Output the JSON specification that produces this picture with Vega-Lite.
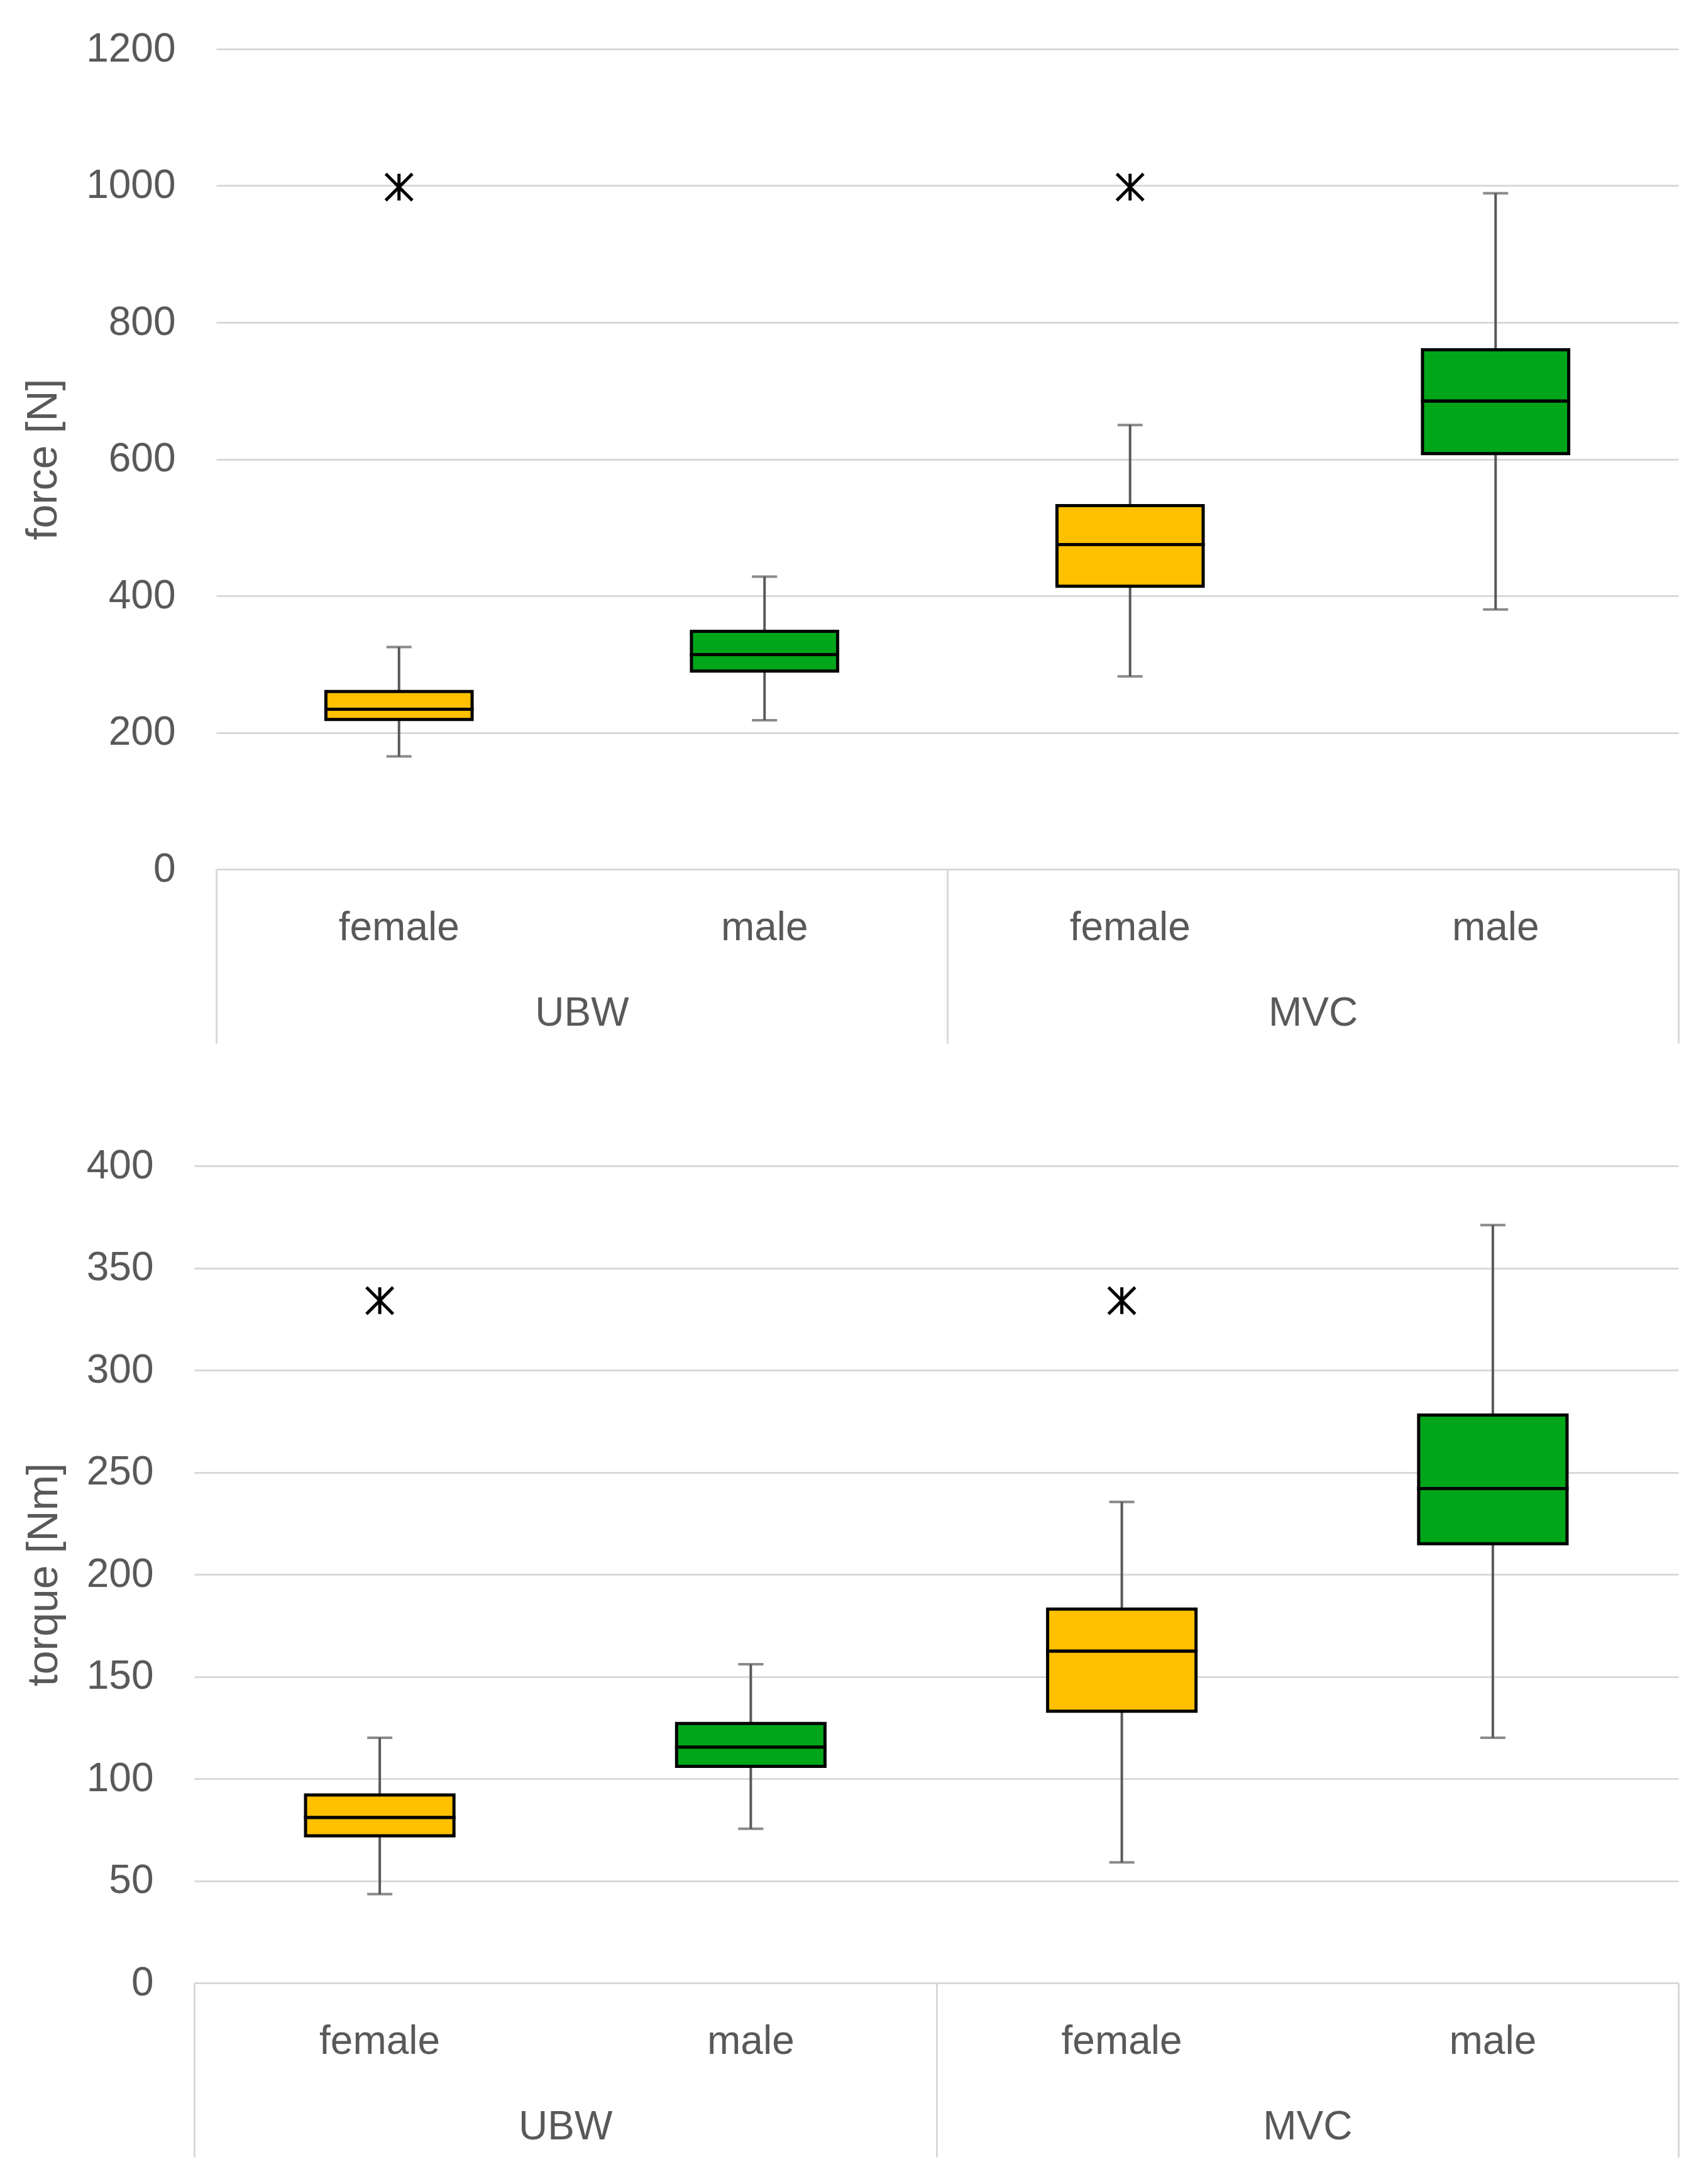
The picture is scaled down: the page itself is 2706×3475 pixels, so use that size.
{
  "$schema": "https://vega.github.io/schema/vega-lite/v6.json",
  "background": "white",
  "padding": {"left": 35, "top": 46, "right": 32, "bottom": 0},
  "spacing": 161,
  "config": {
    "view": {"stroke": null},
    "font": "Liberation Sans",
    "axis": {
      "labelFont": "Liberation Sans",
      "labelFontSize": 64,
      "labelColor": "#595959",
      "labelLimit": 0,
      "titleFont": "Liberation Sans",
      "titleFontSize": 68,
      "titleFontWeight": "normal",
      "titleColor": "#595959"
    }
  },
  "datasets": {
    "force": [
      {"test": "UBW", "sex": "female", "key": "UBW female", "lo": 165, "q1": 219, "med": 234, "q3": 260, "hi": 325},
      {"test": "UBW", "sex": "male", "key": "UBW male", "lo": 218, "q1": 290, "med": 314, "q3": 348, "hi": 428},
      {"test": "MVC", "sex": "female", "key": "MVC female", "lo": 282, "q1": 414, "med": 475, "q3": 532, "hi": 650},
      {"test": "MVC", "sex": "male", "key": "MVC male", "lo": 380, "q1": 608, "med": 685, "q3": 760, "hi": 989}
    ],
    "forceOut": [
      {"key": "UBW female", "value": 998},
      {"key": "MVC female", "value": 998}
    ],
    "torque": [
      {"test": "UBW", "sex": "female", "key": "UBW female", "lo": 43.5, "q1": 72, "med": 81, "q3": 92, "hi": 120},
      {"test": "UBW", "sex": "male", "key": "UBW male", "lo": 75.5, "q1": 106, "med": 115.5, "q3": 127, "hi": 156},
      {"test": "MVC", "sex": "female", "key": "MVC female", "lo": 59, "q1": 133, "med": 162.5, "q3": 183, "hi": 235.5},
      {"test": "MVC", "sex": "male", "key": "MVC male", "lo": 120, "q1": 215, "med": 242, "q3": 278, "hi": 371}
    ],
    "torqueOut": [
      {"key": "UBW female", "value": 334},
      {"key": "MVC female", "value": 334}
    ]
  },
  "vconcat": [
    {
      "width": 2361,
      "height": 1305,
      "layer": [
        {
          "data": {"name": "force"},
          "encoding": {
            "x": {
              "field": "key", "type": "nominal",
              "scale": {"type": "band", "domain": ["UBW female", "UBW male", "MVC female", "MVC male"], "range": [35, 2361], "paddingInner": 0, "paddingOuter": 0},
              "axis": {"orient": "bottom", "title": null, "domain": false, "ticks": false, "tickSize": 0, "grid": false, "labelPadding": 61, "labelAngle": 0, "labelExpr": "split(datum.label, ' ')[1]"}
            }
          },
          "layer": [
            {
              "mark": {"type": "rule", "color": "#595959", "strokeWidth": 4},
              "encoding": {
                "y": {"field": "lo", "type": "quantitative", "scale": {"domain": [0, 1200], "nice": false},
                  "axis": {"title": "force [N]", "format": "d", "values": [0, 200, 400, 600, 800, 1000, 1200], "grid": true, "gridColor": "#d9d9d9", "gridWidth": 3, "domain": false, "ticks": false, "tickSize": 0, "labelPadding": 30, "titlePadding": 33}},
                "y2": {"field": "hi"}
              }
            },
            {
              "mark": {"type": "tick", "color": "#595959", "size": 40, "thickness": 4},
              "encoding": {"y": {"field": "lo", "type": "quantitative"}}
            },
            {
              "mark": {"type": "tick", "color": "#595959", "size": 40, "thickness": 4},
              "encoding": {"y": {"field": "hi", "type": "quantitative"}}
            },
            {
              "mark": {"type": "bar", "stroke": "black", "strokeWidth": 5, "width": {"band": 0.4}},
              "encoding": {
                "y": {"field": "q1", "type": "quantitative"},
                "y2": {"field": "med"},
                "color": {"field": "sex", "type": "nominal", "scale": {"domain": ["female", "male"], "range": ["#FFC000", "#00A619"]}, "legend": null}
              }
            },
            {
              "mark": {"type": "bar", "stroke": "black", "strokeWidth": 5, "width": {"band": 0.4}},
              "encoding": {
                "y": {"field": "med", "type": "quantitative"},
                "y2": {"field": "q3"},
                "color": {"field": "sex", "type": "nominal", "scale": {"domain": ["female", "male"], "range": ["#FFC000", "#00A619"]}, "legend": null}
              }
            },
            {
              "data": {"name": "forceOut"},
              "mark": {"type": "point", "shape": "M-1,-1L1,1M-1,1L1,-1M0,-1L0,1", "size": 1800, "stroke": "black", "strokeWidth": 5, "filled": false, "opacity": 1},
              "encoding": {"y": {"field": "value", "type": "quantitative"}}
            }
          ]
        },
        {
          "data": {"name": "force"},
          "mark": {"type": "rule", "opacity": 0},
          "encoding": {
            "x": {
              "field": "test", "type": "nominal",
              "scale": {"type": "band", "domain": ["UBW", "MVC"], "range": [35, 2361], "paddingInner": 0, "paddingOuter": 0},
              "axis": {"orient": "bottom", "title": null, "domain": false, "ticks": true, "tickBand": "extent", "tickSize": 277, "tickColor": "#d9d9d9", "tickWidth": 3, "grid": false, "labelPadding": -80, "labelAngle": 0}
            }
          }
        }
      ],
      "resolve": {"scale": {"x": "independent"}}
    },
    {
      "width": 2361,
      "height": 1300,
      "layer": [
        {
          "data": {"name": "torque"},
          "encoding": {
            "x": {
              "field": "key", "type": "nominal",
              "scale": {"type": "band", "domain": ["UBW female", "UBW male", "MVC female", "MVC male"], "paddingInner": 0, "paddingOuter": 0},
              "axis": {"orient": "bottom", "title": null, "domain": false, "ticks": false, "tickSize": 0, "grid": false, "labelPadding": 61, "labelAngle": 0, "labelExpr": "split(datum.label, ' ')[1]"}
            }
          },
          "layer": [
            {
              "mark": {"type": "rule", "color": "#595959", "strokeWidth": 4},
              "encoding": {
                "y": {"field": "lo", "type": "quantitative", "scale": {"domain": [0, 400], "nice": false},
                  "axis": {"title": "torque [Nm]", "format": "d", "values": [0, 50, 100, 150, 200, 250, 300, 350, 400], "grid": true, "gridColor": "#d9d9d9", "gridWidth": 3, "domain": false, "ticks": false, "tickSize": 0, "labelPadding": 65, "titlePadding": 33}},
                "y2": {"field": "hi"}
              }
            },
            {
              "mark": {"type": "tick", "color": "#595959", "size": 40, "thickness": 4},
              "encoding": {"y": {"field": "lo", "type": "quantitative"}}
            },
            {
              "mark": {"type": "tick", "color": "#595959", "size": 40, "thickness": 4},
              "encoding": {"y": {"field": "hi", "type": "quantitative"}}
            },
            {
              "mark": {"type": "bar", "stroke": "black", "strokeWidth": 5, "width": {"band": 0.4}},
              "encoding": {
                "y": {"field": "q1", "type": "quantitative"},
                "y2": {"field": "med"},
                "color": {"field": "sex", "type": "nominal", "scale": {"domain": ["female", "male"], "range": ["#FFC000", "#00A619"]}, "legend": null}
              }
            },
            {
              "mark": {"type": "bar", "stroke": "black", "strokeWidth": 5, "width": {"band": 0.4}},
              "encoding": {
                "y": {"field": "med", "type": "quantitative"},
                "y2": {"field": "q3"},
                "color": {"field": "sex", "type": "nominal", "scale": {"domain": ["female", "male"], "range": ["#FFC000", "#00A619"]}, "legend": null}
              }
            },
            {
              "data": {"name": "torqueOut"},
              "mark": {"type": "point", "shape": "M-1,-1L1,1M-1,1L1,-1M0,-1L0,1", "size": 1800, "stroke": "black", "strokeWidth": 5, "filled": false, "opacity": 1},
              "encoding": {"y": {"field": "value", "type": "quantitative"}}
            }
          ]
        },
        {
          "data": {"name": "torque"},
          "mark": {"type": "rule", "opacity": 0},
          "encoding": {
            "x": {
              "field": "test", "type": "nominal",
              "scale": {"type": "band", "domain": ["UBW", "MVC"], "paddingInner": 0, "paddingOuter": 0},
              "axis": {"orient": "bottom", "title": null, "domain": false, "ticks": true, "tickBand": "extent", "tickSize": 277, "tickColor": "#d9d9d9", "tickWidth": 3, "grid": false, "labelPadding": -80, "labelAngle": 0}
            }
          }
        }
      ],
      "resolve": {"scale": {"x": "independent"}}
    }
  ]
}
